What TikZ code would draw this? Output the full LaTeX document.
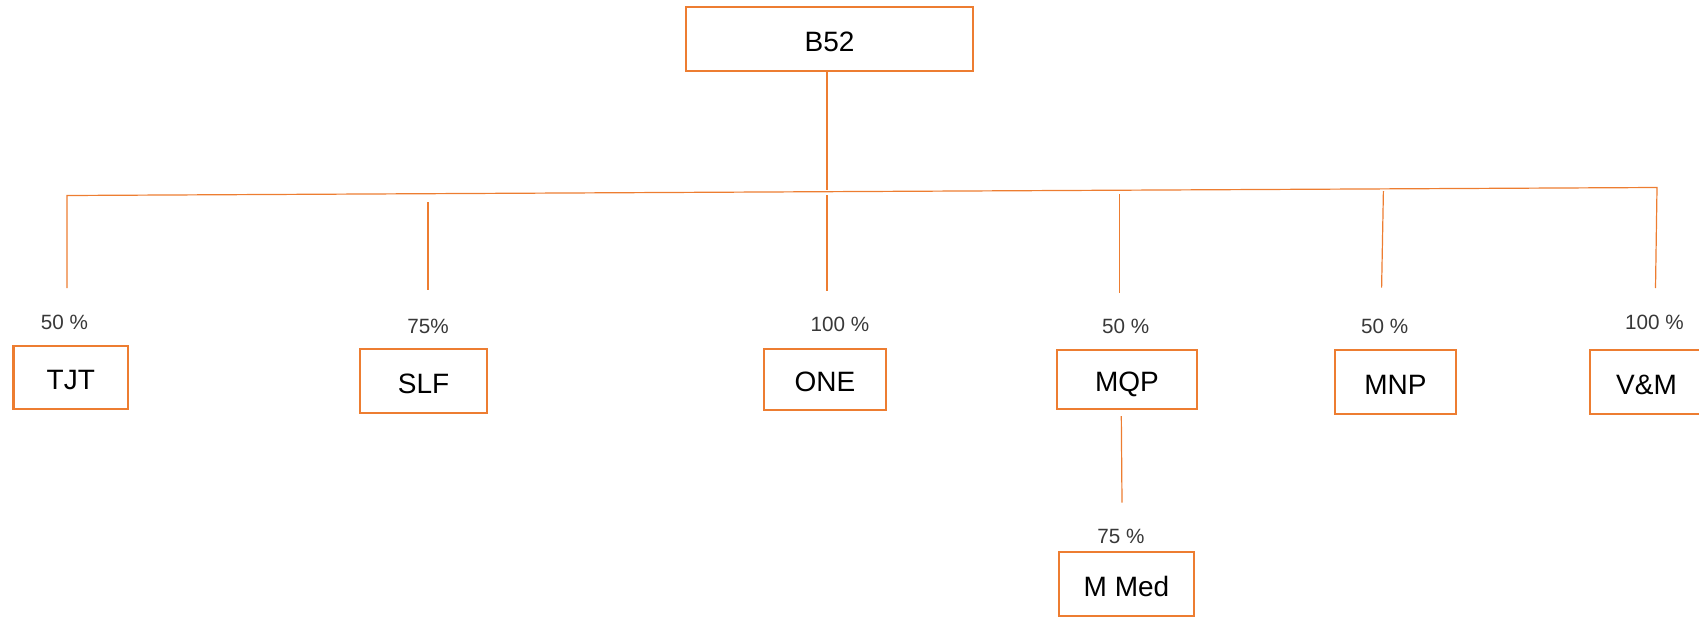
\documentclass[tikz,border=0pt]{standalone}
\usepackage{fontspec}
\setmainfont{Liberation Sans}
\definecolor{boxorange}{HTML}{ED7D31}

\begin{document}
\begin{tikzpicture}[x=0.75pt, y=-0.75pt,
    company/.style={draw=boxorange, line width=1.8pt, inner sep=0pt, minimum height=48pt, text height=18pt, text depth=0pt, font=\fontsize{21}{25}\selectfont},
    share/.style={inner sep=0pt, text=black!78, font=\fontsize{15.5}{18}\selectfont},
    link/.style={draw=boxorange, line width=0.9pt}]
    \clip (0,0) rectangle (1699,618);
    % boxes
    \node[company, minimum width=215pt] (b52) at (829.5,39) {B52};
    \node[company, minimum width=86pt, minimum height=47pt] (tjt) at (70.8,377.5) {TJT};
    \node[company, minimum width=95pt] (slf) at (423.5,381) {SLF};
    \node[company, minimum width=91.5pt, minimum height=46pt] (one) at (825,379.5) {ONE};
    \node[company, minimum width=105pt, minimum height=44pt] (mqp) at (1127,379.5) {MQP};
    \node[company, minimum width=91pt] (mnp) at (1395.5,382) {MNP};
    \node[company, minimum width=85pt] (vm) at (1646.5,382) {V\&M};
    \node[company, minimum width=101pt] (mmed) at (1126.5,584) {M Med};
    % percentages
    \node[share] (ptjt) at (64.5,322.5) {50 \%};
    \node[share] (pslf) at (428,326) {75\%};
    \node[share] (pone) at (840,324) {100 \%};
    \node[share] (pmqp) at (1125.7,326) {50 \%};
    \node[share] (pmnp) at (1384.7,326) {50 \%};
    \node[share] (pvm) at (1654.5,322) {100 \%};
    \node[share] (pmmed) at (1121,536) {75 \%};
    % ends of the lines
    \coordinate (barl) at (67,195.5);
    \coordinate (barr) at (1657,187.5);
    \coordinate (b52low) at (827,190);
    \coordinate (slftop) at (428,202);
    \coordinate (onetop) at (827,195);
    \coordinate (mqptop) at (1119.5,194);
    \coordinate (mnptop) at (1383.4,191);
    \coordinate (mmedtop) at (1121.3,416);
    \coordinate (tjtend) at (67,288);
    \coordinate (slfend) at (428,290);
    \coordinate (oneend) at (827,291);
    \coordinate (mqpend) at (1119.5,292.7);
    \coordinate (mnpend) at (1381.6,287.7);
    \coordinate (vmend) at (1655.5,288);
    \coordinate (mmedend) at (1122,502.7);
    % lines
    \draw[link] (b52.south -| b52low) -- (b52low);
    \draw[link] (tjtend) -- (barl) -- (barr) -- (vmend);
    \draw[link] (slftop) -- (slfend);
    \draw[link] (onetop) -- (oneend);
    \draw[link] (mqptop) -- (mqpend);
    \draw[link] (mnptop) -- (mnpend);
    \draw[link] (mmedtop) -- (mmedend);
\end{tikzpicture}
\end{document}
